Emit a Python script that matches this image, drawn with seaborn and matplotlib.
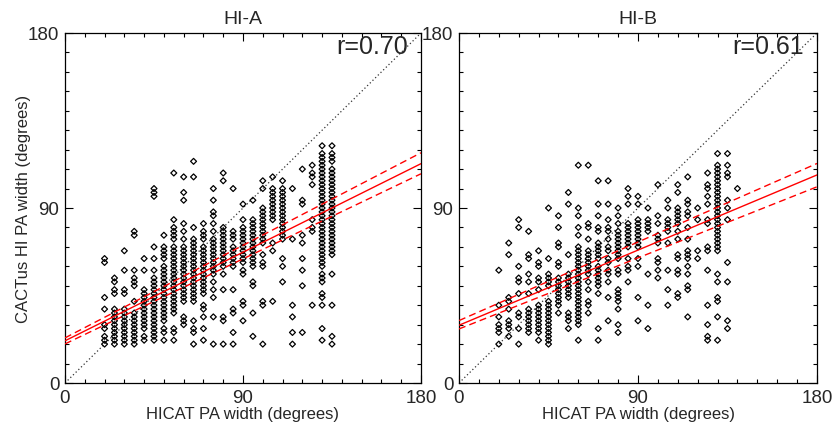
import numpy as np
import pandas as pd
import matplotlib
matplotlib.use("Agg")
import matplotlib.pyplot as plt
import seaborn as sns
from matplotlib.ticker import MultipleLocator

# ---------------- data ----------------
hia_x_cols = [20, 25, 30, 35, 40, 45, 50, 55, 60, 65, 70, 75, 80, 85, 90, 95,
              100, 105, 110, 115, 120, 125, 130, 135]
hia_y_by_col = [
    [64, 62, 44, 38, 30, 28, 24, 22, 20],
    [54, 52, 48, 46, 38, 36, 34, 32, 30, 28, 26, 24, 22, 20],
    [68, 58, 48, 46, 38, 36, 34, 32, 30, 28, 26, 24, 22, 20],
    [78, 76, 58, 54, 52, 50, 42, 36, 34, 32, 30, 28, 26, 24, 22, 20],
    [64, 58, 48, 46, 44, 42, 40, 38, 36, 34, 32, 30, 28, 24, 22],
    [100, 98, 96, 70, 64, 58, 54, 52, 50, 48, 46, 44, 42, 40, 38, 36, 34, 32, 30, 28, 26, 24, 22],
    [76, 70, 68, 66, 64, 60, 58, 56, 54, 52, 50, 48, 46, 44, 42, 40, 38, 36, 34, 32, 28, 26, 22],
    [108, 84, 80, 78, 76, 74, 70, 68, 66, 64, 62, 60, 58, 56, 54, 52, 50, 48, 46, 44, 42, 40, 38, 36, 28, 26, 22],
    [106, 98, 94, 82, 78, 74, 70, 68, 66, 64, 62, 60, 58, 56, 54, 52, 50, 48, 46, 44, 42, 34, 32, 30],
    [114, 106, 80, 74, 72, 70, 68, 66, 64, 62, 60, 58, 56, 54, 52, 50, 48, 46, 44, 42, 32, 28, 26, 20],
    [82, 78, 76, 74, 70, 68, 66, 64, 62, 60, 58, 56, 54, 52, 50, 48, 46, 40, 38, 34, 28, 22],
    [100, 94, 88, 86, 82, 78, 74, 72, 70, 68, 66, 64, 62, 60, 58, 56, 52, 48, 44, 34, 20],
    [108, 104, 80, 78, 76, 74, 72, 70, 68, 66, 64, 62, 60, 56, 48, 34, 32, 20],
    [100, 78, 76, 74, 70, 68, 66, 64, 62, 60, 48, 38, 36, 26, 20],
    [92, 84, 80, 78, 76, 74, 72, 70, 68, 66, 64, 62, 58, 56, 42, 40, 32],
    [94, 84, 82, 80, 78, 76, 74, 72, 70, 68, 66, 64, 62, 60, 52, 50, 36, 24],
    [104, 100, 90, 88, 86, 84, 82, 80, 78, 76, 74, 72, 66, 62, 60, 42, 40, 20],
    [106, 100, 98, 96, 94, 92, 90, 88, 86, 84, 72, 68, 42],
    [104, 100, 98, 96, 94, 92, 90, 88, 86, 84, 82, 80, 78, 76, 74, 64, 60, 52],
    [100, 74, 40, 34, 26, 20],
    [110, 94, 92, 76, 72, 64, 58, 50, 26],
    [112, 108, 106, 102, 84, 80, 78, 40],
    [122, 118, 116, 114, 112, 110, 108, 106, 104, 102, 100, 98, 96, 94, 92, 90, 88, 86, 84, 82,
     80, 78, 76, 74, 72, 70, 68, 66, 64, 62, 60, 56, 54, 52, 46, 44, 40, 28, 22],
    [122, 118, 116, 114, 110, 108, 106, 104, 102, 100, 98, 96, 94, 92, 90, 88, 86, 84, 82, 80,
     78, 76, 74, 72, 70, 68, 66, 56, 40, 24, 20],
]

hib_x_cols = [20, 25, 30, 35, 40, 45, 50, 55, 60, 65, 70, 75, 80, 85, 90, 95,
              100, 105, 110, 115, 120, 125, 130, 135, 140]
hib_y_by_col = [
    [58, 40, 34, 30, 28, 26, 20],
    [72, 66, 44, 42, 38, 32, 30, 28, 24],
    [84, 80, 60, 54, 52, 46, 36, 34, 28, 20],
    [78, 66, 64, 56, 52, 46, 38, 36, 34, 32, 30, 28, 26],
    [68, 62, 60, 54, 52, 48, 40, 38, 36, 34, 32, 30, 28, 26, 22],
    [90, 64, 56, 54, 52, 50, 42, 40, 38, 36, 34, 32, 30, 28, 26, 24, 22, 20],
    [86, 80, 72, 70, 62, 60, 54, 52, 50, 48, 46, 44, 42, 40, 36],
    [98, 92, 66, 56, 54, 52, 50, 48, 46, 44, 36, 34, 32, 28],
    [112, 90, 86, 80, 76, 70, 68, 66, 64, 62, 60, 58, 56, 54, 52, 50, 48, 46, 44, 42, 40, 38,
     36, 34, 32, 30, 22],
    [112, 82, 80, 74, 68, 66, 64, 62, 60, 58, 56, 52, 48, 42, 40, 36],
    [104, 92, 86, 80, 78, 72, 70, 68, 66, 64, 60, 58, 56, 54, 52, 50, 46, 28, 22],
    [104, 92, 84, 80, 78, 74, 70, 68, 64, 62, 58, 56, 52, 44, 32],
    [90, 86, 82, 78, 76, 74, 72, 70, 68, 66, 64, 58, 56, 48, 46, 44, 42, 38, 30, 26],
    [100, 96, 92, 82, 80, 78, 76, 74, 72, 70, 64, 60, 58, 52],
    [96, 92, 84, 82, 80, 78, 76, 74, 72, 70, 64, 60, 44, 32],
    [90, 84, 82, 80, 78, 56, 40, 28],
    [102, 86, 82, 76, 74, 72, 64, 62, 58, 54],
    [94, 90, 84, 82, 80, 78, 72, 58, 48, 40],
    [102, 98, 90, 88, 86, 84, 82, 78, 74, 66, 64, 58, 56, 46, 44],
    [106, 94, 92, 88, 86, 80, 74, 68, 66, 64, 60, 56, 50, 48, 34],
    [90, 84, 68, 64],
    [108, 102, 100, 96, 92, 84, 82, 70, 68, 58, 40, 30, 24, 22],
    [118, 112, 110, 108, 106, 104, 102, 100, 98, 96, 94, 92, 90, 88, 86, 84, 82, 80, 78, 76,
     74, 72, 70, 68, 56, 52, 44, 42, 34, 22],
    [118, 112, 108, 106, 94, 90, 84, 62, 52, 32, 28],
    [100],
]

# fit lines (values at x = 0 and x = 180)
fit_x = [0, 180]
hia_fit = [21.7, 112.8]
hia_upper = [23.2, 118.4]
hia_lower = [20.1, 107.6]
hib_fit = [29.7, 107.0]
hib_upper = [32.1, 112.9]
hib_lower = [27.8, 100.9]
diag_xy = [0, 180]

titles = ["HI-A", "HI-B"]
r_labels = ["r=0.70", "r=0.61"]
tick_vals = [0, 90, 180]
tick_labels = ["0", "90", "180"]

# ---------------- plotting ----------------
sns.set_theme(style="white")
plt.rcParams["font.family"] = ["Liberation Sans", "DejaVu Sans"]


def to_frame(x_cols, y_cols):
    xs, ys = [], []
    for xv, col in zip(x_cols, y_cols):
        for yv in col:
            xs.append(xv)
            ys.append(yv)
    return pd.DataFrame({"x": xs, "y": ys})


fig = plt.figure(figsize=(8.33, 4.31), dpi=100)
ax_a = fig.add_axes([65 / 833, 1 - 384 / 431, 356 / 833, 350 / 431])
ax_b = fig.add_axes([459 / 833, 1 - 384 / 431, 358 / 833, 350 / 431])

panels = [
    (ax_a, to_frame(hia_x_cols, hia_y_by_col), hia_fit, hia_upper, hia_lower),
    (ax_b, to_frame(hib_x_cols, hib_y_by_col), hib_fit, hib_upper, hib_lower),
]

for i, (ax, df, fit, up, lo) in enumerate(panels):
    sns.lineplot(x=diag_xy, y=diag_xy, ax=ax, color="#333333", lw=0.9,
                 linestyle=(0, (1, 2)), zorder=1)
    sns.scatterplot(data=df, x="x", y="y", ax=ax, marker="D", s=9,
                    facecolors="none", edgecolor="black", linewidth=0.9, zorder=2)
    sns.lineplot(x=fit_x, y=fit, ax=ax, color="red", lw=1.0, zorder=3)
    sns.lineplot(x=fit_x, y=up, ax=ax, color="red", lw=1.0,
                 linestyle=(0, (5, 3)), zorder=3)
    sns.lineplot(x=fit_x, y=lo, ax=ax, color="red", lw=1.0,
                 linestyle=(0, (5, 3)), zorder=3)

    ax.set_xlim(0, 180)
    ax.set_ylim(0, 180)
    ax.set_xticks(tick_vals)
    ax.set_xticklabels(tick_labels)
    ax.set_yticks(tick_vals)
    ax.set_yticklabels(tick_labels)
    ax.xaxis.set_minor_locator(MultipleLocator(10))
    ax.yaxis.set_minor_locator(MultipleLocator(10))
    ax.tick_params(which="both", direction="in", top=True, right=True,
                   bottom=True, left=True, color="black", width=0.8)
    ax.tick_params(which="major", length=6, labelsize=13.5, pad=4)
    ax.tick_params(which="minor", length=3)
    for sp in ax.spines.values():
        sp.set_color("black")
        sp.set_linewidth(0.9)
    ax.set_title(titles[i], fontsize=14, pad=7)
    ax.text(173.2, 169.8, r_labels[i], ha="right", va="baseline", fontsize=18)
    ax.set_xlabel("HICAT PA width (degrees)", fontsize=12, labelpad=0)
    ax.set_ylabel("")
    ax.grid(False)

ax_a.set_ylabel("CACTus HI PA width (degrees)", fontsize=12, labelpad=-2)

fig.savefig("out.png", dpi=100)
